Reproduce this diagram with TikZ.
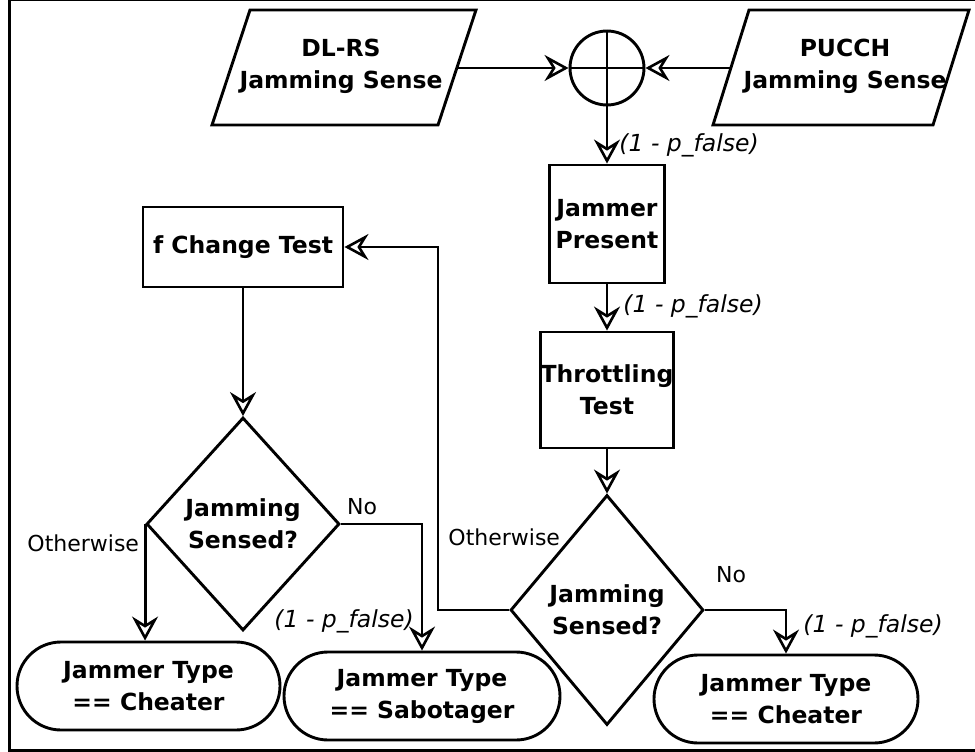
\documentclass[tikz,border=0pt]{standalone}
\usepackage{fontspec}
\setmainfont{DejaVu Sans}
\usetikzlibrary{arrows.meta,shapes.geometric}
\begin{document}
\begin{tikzpicture}[x=1pt,y=-1pt,
  line width=2.9pt,
  every node/.style={inner sep=0pt},
  lbl/.style={font=\fontsize{22}{26}\selectfont},
  plbl/.style={font=\fontsize{23.5}{26}\selectfont\itshape, anchor=west},
  boxtxt/.style={font=\fontsize{23.5}{32}\selectfont\bfseries, align=center},
  procbox/.style={draw, boxtxt},
  term/.style={draw, boxtxt, rounded corners=44pt},
  decision/.style={draw, diamond, boxtxt},
  arr/.style={-{Stealth[open,length=24pt,width=26pt,inset=8pt,line width=2.6pt]}},
]
\useasboundingbox (0,0) rectangle (975,752);
\clip (0,0) rectangle (975,752);
% outer frame
\draw[line width=3pt] (9.5,0) rectangle (1000,750.5);

% input parallelograms
\draw (250,10) -- (476,10) -- (438,125) -- (212,125) -- cycle;
\node[boxtxt] (dlrs) at (341,66) {DL-RS\\Jamming Sense};
\coordinate (dlrsE) at (457,68);
\draw (749,10) -- (969,10) -- (933,125) -- (713,125) -- cycle;
\node[boxtxt] (pucch) at (845,66) {PUCCH\\Jamming Sense};
\coordinate (pucchW) at (731,68);

% summing junction
\node[draw, circle, minimum size=74pt] (sum) at (607,68) {};
\draw (sum.north) -- (sum.south) (sum.west) -- (sum.east);
\draw[arr] (dlrsE) -- (sum.west);
\draw[arr] (pucchW) -- (sum.east);

% main column
\node[procbox, minimum width=115pt, minimum height=118pt] (jp) at (607,224) {Jammer\\Present};
\node[procbox, minimum width=133pt, minimum height=116pt] (tt) at (607,390) {Throttling\\Test};
\node[decision, minimum width=193pt, minimum height=230pt] (dR) at (607,610) {Jamming\\Sensed?};
\node[term, minimum width=264pt, minimum height=88pt] (cR) at (786,699) {Jammer Type\\== Cheater};

% frequency change branch
\node[procbox, minimum width=200pt, minimum height=80pt] (fct) at (243,247) {f Change Test};
\node[decision, minimum width=193pt, minimum height=213pt] (dL) at (243,524) {Jamming\\Sensed?};
\node[term, minimum width=263pt, minimum height=88pt] (cL) at (148.5,686) {Jammer Type\\== Cheater};
\node[term, minimum width=276pt, minimum height=88pt] (sab) at (422,696) {Jammer Type\\== Sabotager};

% connectors
\draw[arr] (sum.south) -- (jp.north);
\draw[arr] (jp.south) -- (tt.north);
\draw[arr] (tt.south) -- (dR.north);
\coordinate (loop) at (438,610);
\draw[arr] (dR.west) -- (loop) |- (fct.east);
\draw[arr] (dR.east) -| (cR.north);
\draw[arr] (fct.south) -- (dL.north);
\draw[arr] (dL.west) -- (dL.west |- cL.north);
\draw[arr] (dL.east) -| (sab.north);

% edge labels
\node[plbl] (p1) at (618,145) {(1 - p\_false)};
\node[plbl] (p2) at (622,306) {(1 - p\_false)};
\node[plbl] (p3) at (802,626) {(1 - p\_false)};
\node[plbl] (p4) at (273,621) {(1 - p\_false)};
\node[lbl, anchor=west] (owL) at (26,543) {Otherwise};
\node[lbl] (noL) at (362,507) {No};
\node[lbl, anchor=west] (owR) at (447,537) {Otherwise};
\node[lbl] (noR) at (731,575) {No};
\end{tikzpicture}
\end{document}
